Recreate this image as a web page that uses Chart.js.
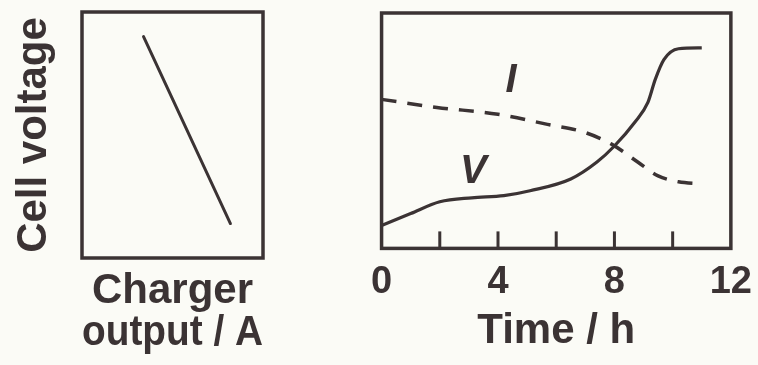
<!DOCTYPE html>
<html>
<head>
<meta charset="utf-8">
<script src="https://cdn.jsdelivr.net/npm/chart.js@4.4.1/dist/chart.umd.min.js"></script>
<style>
  html, body { margin: 0; padding: 0; background: #fbfbf6; }
  #wrap { position: relative; width: 758px; height: 365px; overflow: hidden; }
  canvas { position: absolute; top: 0; }
  #left { left: 0; }
  #right { left: 360px; }
</style>
</head>
<body>
<div id="wrap">
  <canvas id="left" width="370" height="365"></canvas>
  <canvas id="right" width="403" height="365"></canvas>
</div>
<script>
// left panel: cell voltage vs charger output (arbitrary units)
const chargerX = [3.4, 8.2];
const chargerV = [9.0, 1.4];

// right panel: time axis and the two curves (arbitrary units)
const timeTicks = [0, 2, 4, 6, 8, 10, 12];
const vTime = [0, 1.0, 2.0, 3.1, 4.2, 5.1, 6.5, 7.4, 8.0, 8.7, 9.15, 9.4, 9.7, 10.2, 11.0];
const vVals = [9.7, 14.8, 19.8, 21.5, 22.4, 24.5, 29.5, 36.7, 43.5, 53.6, 62, 71.7, 80.2, 84.8, 85.2];
const iTime = [0, 1.9, 4.0, 5.7, 6.95, 7.9, 8.8, 9.5, 10.2, 11.0];
const iVals = [63.3, 59.9, 57, 52.7, 49.4, 44.3, 36.7, 30.8, 28.3, 27.4];

const INK = '#3b3334';
const FONT = "'Liberation Sans', Arial, sans-serif";

// box around the plot area
const framePlugin = {
  id: 'frame',
  afterDraw(chart) {
    const { ctx, chartArea: a } = chart;
    ctx.save();
    ctx.strokeStyle = INK;
    ctx.lineWidth = 3.5;
    ctx.strokeRect(a.left, a.top, a.right - a.left, a.bottom - a.top);
    ctx.restore();
  }
};

// short ticks pointing up into the plot, plus the curve names
const innerTicks = {
  id: 'innerTicks',
  afterDraw(chart) {
    const { ctx, chartArea: a } = chart;
    const xs = chart.scales.x, ys = chart.scales.y;
    ctx.save();
    ctx.strokeStyle = INK;
    ctx.lineWidth = 3;
    xs.ticks.forEach(t => {
      if (t.value <= xs.min || t.value >= xs.max) return;
      const px = xs.getPixelForValue(t.value);
      ctx.beginPath();
      ctx.moveTo(px, a.bottom);
      ctx.lineTo(px, a.bottom - 17);
      ctx.stroke();
    });
    ctx.fillStyle = INK;
    ctx.font = `italic bold 40px ${FONT}`;
    ctx.textAlign = 'center';
    ctx.textBaseline = 'middle';
    ctx.fillText('I', xs.getPixelForValue(4.45), ys.getPixelForValue(71));
    ctx.fillText('V', xs.getPixelForValue(3.15), ys.getPixelForValue(32.5));
    ctx.restore();
  }
};

new Chart(document.getElementById('left'), {
  type: 'line',
  data: {
    datasets: [{
      data: chargerX.map((x, i) => ({ x, y: chargerV[i] })),
      borderColor: INK,
      borderWidth: 3,
      pointRadius: 0,
      borderCapStyle: 'round'
    }]
  },
  options: {
    responsive: false,
    animation: false,
    devicePixelRatio: 1,
    layout: { padding: { left: 13, right: 107, top: 12, bottom: 0 } },
    plugins: { legend: { display: false }, tooltip: { enabled: false } },
    scales: {
      x: {
        type: 'linear', min: 0, max: 10,
        grid: { display: false, drawTicks: false }, border: { display: false },
        ticks: { display: false },
        title: {
          display: true, text: ['Charger', 'output / A'], color: INK,
          font: { family: FONT, size: 42, weight: 'bold', lineHeight: 1 },
          padding: { top: 12, bottom: 11 }
        }
      },
      y: {
        type: 'linear', min: 0, max: 10,
        grid: { display: false, drawTicks: false }, border: { display: false },
        ticks: { display: false },
        title: {
          display: true, text: 'Cell voltage', color: INK,
          font: { family: FONT, size: 42, weight: 'bold', lineHeight: 1 },
          padding: { top: 0, bottom: 27 }
        }
      }
    }
  },
  plugins: [framePlugin]
});

new Chart(document.getElementById('right'), {
  type: 'line',
  data: {
    datasets: [{
      label: 'V',
      data: vTime.map((x, i) => ({ x, y: vVals[i] })),
      borderColor: INK,
      borderWidth: 3.2,
      pointRadius: 0,
      cubicInterpolationMode: 'monotone'
    }, {
      label: 'I',
      data: iTime.map((x, i) => ({ x, y: iVals[i] })),
      borderColor: INK,
      borderWidth: 3.5,
      borderDash: [15, 11],
      pointRadius: 0,
      cubicInterpolationMode: 'monotone'
    }]
  },
  options: {
    responsive: false,
    animation: false,
    devicePixelRatio: 1,
    layout: { padding: { left: 0, right: 23, top: 13, bottom: 0 } },
    plugins: { legend: { display: false }, tooltip: { enabled: false } },
    scales: {
      x: {
        type: 'linear', min: timeTicks[0], max: timeTicks[timeTicks.length - 1],
        afterBuildTicks: s => { s.ticks = timeTicks.map(v => ({ value: v })); },
        grid: { display: false, drawTicks: false }, border: { display: false },
        ticks: {
          color: INK, padding: 11, maxRotation: 0, autoSkip: false,
          font: { family: FONT, size: 38, weight: 'bold', lineHeight: 1.2 },
          callback: v => (v % 4 === 0 ? String(v) : '')
        },
        title: {
          display: true, text: 'Time / h', color: INK,
          font: { family: FONT, size: 42, weight: 'bold', lineHeight: 1 },
          padding: { top: -6, bottom: 13 }
        }
      },
      y: { type: 'linear', min: 0, max: 100, display: false }
    }
  },
  plugins: [framePlugin, innerTicks]
});
</script>
</body>
</html>
